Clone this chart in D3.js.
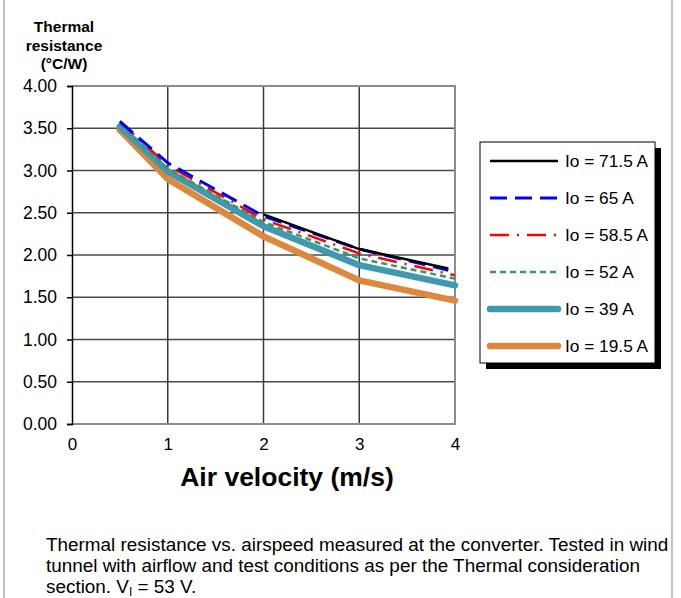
<!DOCTYPE html>
<html>
<head>
<meta charset="utf-8">
<script src="https://cdn.jsdelivr.net/npm/d3@7"></script>
<style>
  html, body { margin: 0; padding: 0; background: #fff; }
  svg { display: block; font-family: "Liberation Sans", Arial, sans-serif; }
</style>
</head>
<body>
<svg id="chart" width="681" height="598"></svg>
<script>
// Air velocity (m/s) at which each curve was sampled
const velocity = [0.5, 1, 2, 3, 4];
const velocityShort = [0.5, 1, 2, 3, 3.93];

// Thermal resistance (°C/W) per output current
const io715 = [null, null, 2.48, 2.07, 1.84];
const io65  = [3.58, 3.09, 2.46, 2.07, 1.82];
const io585 = [3.58, 3.06, 2.42, 2.02, 1.76];
const io52  = [3.55, 3.02, 2.39, 1.96, 1.72];
const io39  = [3.52, 2.99, 2.34, 1.88, 1.64];
const io195 = [3.48, 2.90, 2.22, 1.70, 1.46];

const seriesNames = ["Io = 71.5 A", "Io = 65 A", "Io = 58.5 A", "Io = 52 A", "Io = 39 A", "Io = 19.5 A"];
const yTicks = [0, 0.5, 1, 1.5, 2, 2.5, 3, 3.5, 4];
const xTicks = [0, 1, 2, 3, 4];

const series = [
  { name: seriesNames[0], xs: velocityShort, ys: io715, color: "#000000", width: 2.5, dash: null, cap: "butt" },
  { name: seriesNames[1], xs: velocityShort, ys: io65,  color: "#0000ff", width: 3,   dash: "17,8", cap: "butt" },
  { name: seriesNames[2], xs: velocity,      ys: io585, color: "#ff0000", width: 2.5, dash: "19,8,2,8", cap: "butt" },
  { name: seriesNames[3], xs: velocity,      ys: io52,  color: "#339966", width: 2.5, dash: "6,4", cap: "butt" },
  { name: seriesNames[4], xs: velocity,      ys: io39,  color: "#4198af", width: 6.5, dash: null, cap: "round" },
  { name: seriesNames[5], xs: velocity,      ys: io195, color: "#dd883c", width: 6.5, dash: null, cap: "round" }
];

const svg = d3.select("#chart");

// side rules of the figure frame
svg.append("line").attr("x1", 4).attr("x2", 4).attr("y1", 0).attr("y2", 598)
  .attr("stroke", "#c0c0c0").attr("stroke-width", 2);
svg.append("line").attr("x1", 672).attr("x2", 672).attr("y1", 0).attr("y2", 598)
  .attr("stroke", "#c0c0c0").attr("stroke-width", 2);

const plot = { left: 72, right: 455, top: 86, bottom: 424 };
const x = d3.scaleLinear().domain([0, 4]).range([plot.left, plot.right]);
const y = d3.scaleLinear().domain([0, 4]).range([plot.bottom, plot.top]);

// gridlines
const grid = svg.append("g");
grid.selectAll("line.h").data(yTicks.filter(v => v > 0 && v < 4)).join("line")
  .attr("x1", plot.left).attr("x2", plot.right)
  .attr("y1", d => y(d)).attr("y2", d => y(d))
  .attr("stroke", "#4a4a4a").attr("stroke-width", 1.5);
grid.selectAll("line.v").data(xTicks.filter(v => v > 0 && v < 4)).join("line")
  .attr("x1", d => x(d)).attr("x2", d => x(d))
  .attr("y1", plot.top).attr("y2", plot.bottom)
  .attr("stroke", "#3a3a3a").attr("stroke-width", 1.5);

// plot frame: top, right and bottom in grey
svg.append("path")
  .attr("d", `M${plot.left},${plot.top}H${plot.right}V${plot.bottom}H${plot.left}`)
  .attr("fill", "none").attr("stroke", "#8c8c8c").attr("stroke-width", 2);

// y axis
const yAxis = d3.axisLeft(y).tickValues(yTicks).tickFormat(d3.format(".2f")).tickSize(5).tickPadding(10);
const gy = svg.append("g").attr("transform", `translate(${plot.left},0)`).call(yAxis);
gy.select(".domain").attr("stroke", "#000").attr("stroke-width", 1.5);
gy.selectAll(".tick line").attr("stroke", "#000").attr("stroke-width", 1.5);
gy.selectAll(".tick text").attr("font-size", 17.5).attr("fill", "#000")
  .attr("font-family", "Liberation Sans, Arial, sans-serif");

// x axis labels (no tick marks)
const xAxis = d3.axisBottom(x).tickValues(xTicks).tickFormat(d3.format("d")).tickSize(0).tickPadding(14);
const gx = svg.append("g").attr("transform", `translate(0,${plot.bottom})`).call(xAxis);
gx.select(".domain").remove();
gx.selectAll(".tick text").attr("font-size", 17).attr("fill", "#000")
  .attr("font-family", "Liberation Sans, Arial, sans-serif");

// series lines
const lineGen = s => d3.line()
  .defined((d, i) => s.ys[i] !== null)
  .x((d, i) => x(s.xs[i]))
  .y((d, i) => y(s.ys[i]));

svg.append("g").selectAll("path").data(series.slice().reverse()).join("path")
  .attr("d", s => lineGen(s)(s.ys))
  .attr("fill", "none")
  .attr("stroke", s => s.color)
  .attr("stroke-width", s => s.width)
  .attr("stroke-dasharray", s => s.dash)
  .attr("stroke-linecap", s => s.cap)
  .attr("stroke-linejoin", "round");

// axis titles
svg.append("text").attr("x", 287).attr("y", 486).attr("text-anchor", "middle")
  .attr("font-size", 26.5).attr("font-weight", "bold").text("Air velocity (m/s)");

const yTitle = svg.append("text").attr("text-anchor", "middle").attr("font-size", 15.5).attr("font-weight", "bold");
["Thermal", "resistance", "(°C/W)"].forEach((t, i) => {
  yTitle.append("tspan").attr("x", 64).attr("y", 32 + i * 18.5).text(t);
});

// legend
const leg = { x: 480, y: 142, w: 175, h: 221, shadow: 6 };
const lg = svg.append("g");
lg.append("rect").attr("x", leg.x + leg.shadow).attr("y", leg.y + leg.shadow)
  .attr("width", leg.w).attr("height", leg.h).attr("fill", "#000");
lg.append("rect").attr("x", leg.x).attr("y", leg.y)
  .attr("width", leg.w).attr("height", leg.h).attr("fill", "#fff")
  .attr("stroke", "#000").attr("stroke-width", 1);
const rowY = d3.scalePoint().domain(seriesNames).range([161, 346]);
const rows = lg.selectAll("g.row").data(series).join("g").attr("class", "row")
  .attr("transform", s => `translate(0,${rowY(s.name)})`);
rows.append("line").attr("x1", 490).attr("x2", 558).attr("y1", 0).attr("y2", 0)
  .attr("stroke", s => s.color)
  .attr("stroke-width", s => s.width)
  .attr("stroke-dasharray", s => s.dash)
  .attr("stroke-linecap", s => s.cap);
rows.append("text").attr("x", 565).attr("y", 6).attr("font-size", 17.3).text(s => s.name);

// caption
const cap = svg.append("text").attr("font-size", 18.9).attr("fill", "#000");
cap.append("tspan").attr("x", 46).attr("y", 551)
  .text("Thermal resistance vs. airspeed measured at the converter. Tested in wind");
cap.append("tspan").attr("x", 46).attr("y", 572)
  .text("tunnel with airflow and test conditions as per the Thermal consideration");
const l3 = cap.append("tspan").attr("x", 46).attr("y", 593);
l3.append("tspan").text("section. V");
l3.append("tspan").attr("font-size", 12).attr("dy", 3).text("I");
l3.append("tspan").attr("dy", -3).text(" = 53 V.");
</script>
</body>
</html>
